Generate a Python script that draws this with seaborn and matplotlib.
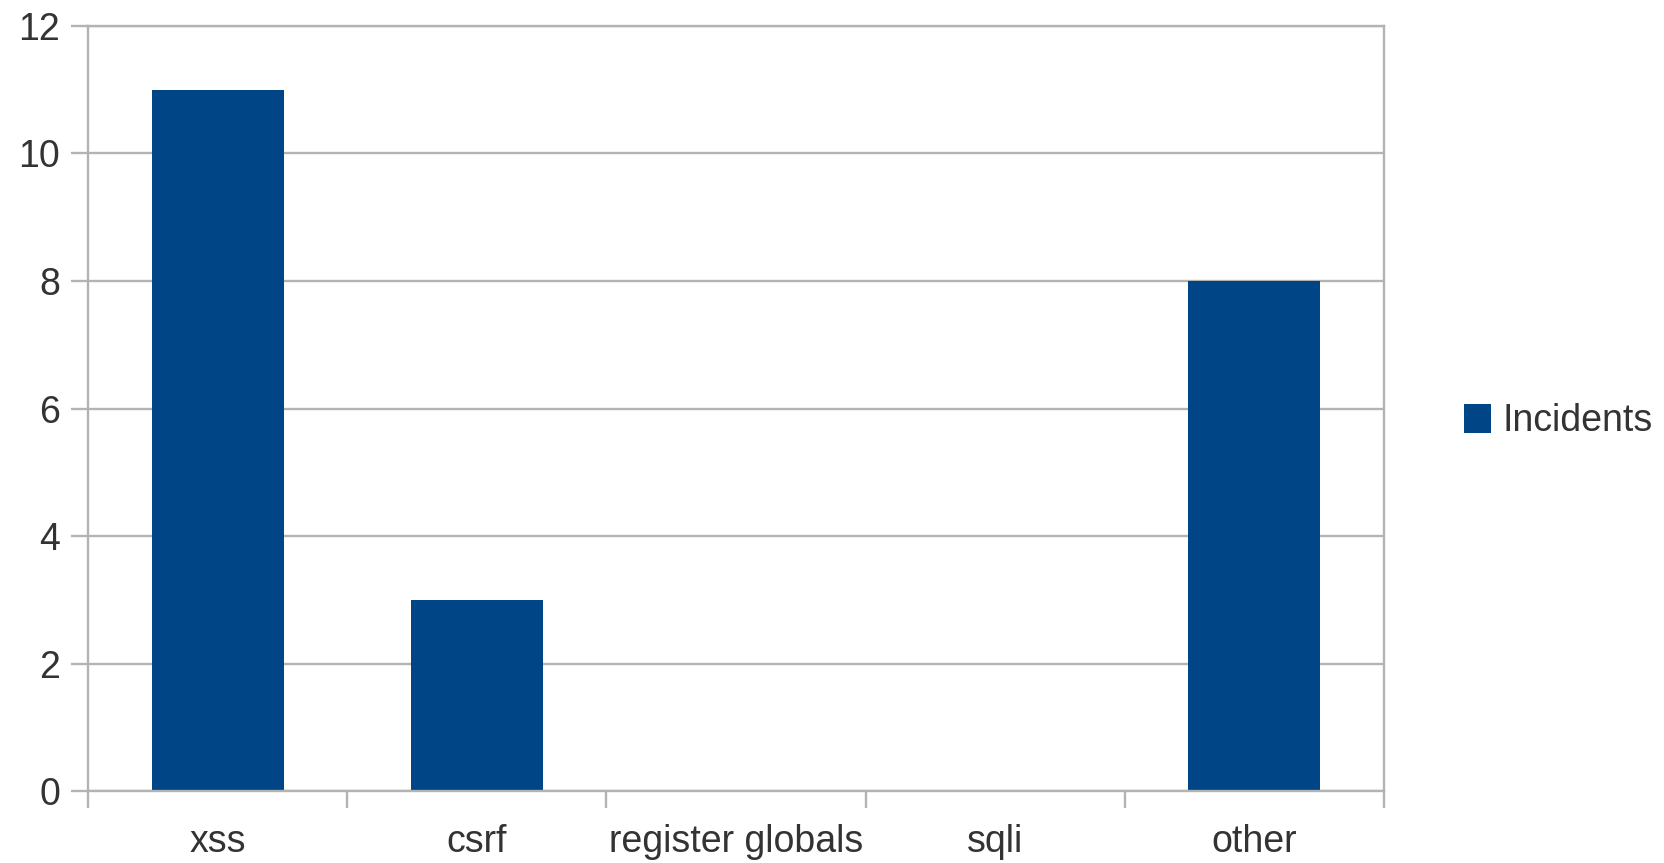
import matplotlib
matplotlib.use("Agg")
import matplotlib.pyplot as plt
import seaborn as sns
import pandas as pd
import numpy as np
from matplotlib.patches import Patch

# Incident counts per vulnerability category
categories = ["xss", "csrf", "register globals", "sqli", "other"]
incidents = [11, 3, 0, 0, 8]
y_ticks = [0, 2, 4, 6, 8, 10, 12]
series_name = "Incidents"

BAR = "#004586"
GRID = "#b3b3b3"
TEXT = "#333333"
FS = 27

sns.set_theme(style="white")
plt.rcParams["font.family"] = ["Liberation Sans", "DejaVu Sans"]
plt.rcParams["font.size"] = FS

df = pd.DataFrame({"category": categories, "value": incidents})

fig = plt.figure(figsize=(16.65, 8.63), dpi=100)
fig.patch.set_facecolor("white")
ax = fig.add_axes([0.0529, 0.0834, 0.7783, 0.8865])

sns.barplot(data=df, x="category", y="value", color=BAR, width=0.51,
            saturation=1, linewidth=0, ax=ax)

ax.set_xlim(-0.5, len(categories) - 0.5)
ax.set_ylim(0, 12)
ax.set_yticks(y_ticks)
ax.set_yticklabels([str(t) for t in y_ticks])
ax.yaxis.grid(True, color=GRID, lw=1.7)
ax.set_axisbelow(True)
ax.set_xlabel("")
ax.set_ylabel("")

# tick marks sit on category boundaries, labels at category centres
ax.set_xticks(np.arange(len(categories) + 1) - 0.5)
ax.set_xticklabels([""] * (len(categories) + 1))
ax.set_xticks(np.arange(len(categories)), minor=True)
ax.set_xticklabels(categories, minor=True)

ax.tick_params(axis="x", which="major", direction="out", length=12,
               width=1.7, color=GRID, bottom=True)
ax.tick_params(axis="x", which="minor", length=0, pad=24,
               labelsize=FS, labelcolor=TEXT, bottom=True)
ax.tick_params(axis="y", direction="out", length=12, width=1.7, color=GRID,
               pad=8, labelsize=FS, labelcolor=TEXT, left=True)

for side in ["left", "bottom", "right", "top"]:
    ax.spines[side].set_visible(True)
    ax.spines[side].set_color(GRID)
    ax.spines[side].set_linewidth(1.7)

handles = [Patch(facecolor=BAR, edgecolor="none", label=series_name)]
fig.legend(handles=handles, loc="center left", bbox_to_anchor=(0.868, 0.512),
           frameon=False, fontsize=FS, handlelength=0.72, handleheight=0.82,
           handletextpad=0.3, borderpad=0, labelcolor=TEXT)

fig.savefig("out.png", dpi=100, facecolor="white")
